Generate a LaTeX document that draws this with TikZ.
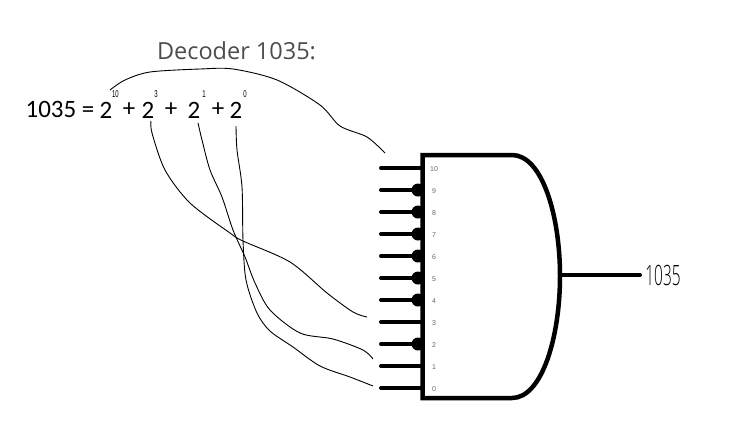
\documentclass[tikz,border=0pt]{standalone}
\usepackage{fontspec}
\setmainfont{Open Sans}
\newfontfamily\carl{Carlito}
\newfontfamily\lib{Liberation Sans}
\newfontfamily\thinf{Open Sans Light}
\tikzset{
  wirestub/.style={line width=4pt,line cap=round},
  gateline/.style={line width=4.5pt,line join=miter},
  sketch/.style={line width=0.9pt,black},
  pinlabel/.style={font=\lib\fontsize{7}{7}\selectfont,text=black!60,inner sep=0pt},
  eqn/.style={font=\carl\fontsize{25}{25}\selectfont,inner sep=0pt,anchor=center},
  sup/.style={font=\lib\fontsize{10}{10}\selectfont,inner sep=0pt,xscale=0.6},
}
\begin{document}
\begin{tikzpicture}[x=1pt,y=-1pt]
\useasboundingbox (0,0) rectangle (750,440);
\node[inner sep=0pt,text=black!70,font=\fontsize{23.5}{23.5}\selectfont] (title) at (236.5,51) {Decoder 1035:};
\node[eqn] (val) at (60,109) {1035 =};
\node[eqn] (p10) at (106,110) {2};
\node[eqn] (pa) at (129,110) {+};
\node[eqn] (p3) at (148,110) {2};
\node[eqn] (pb) at (171,110) {+};
\node[eqn] (p1) at (194,110) {2};
\node[eqn] (pc) at (218,110) {+};
\node[eqn] (p0) at (236,110) {2};
\node[sup] (s10) at (115.5,94) {10};
\node[sup] (s3) at (156,94) {3};
\node[sup] (s1) at (204,94) {1};
\node[sup] (s0) at (245,94) {0};
% gate
\draw[gateline] (422.5,155) -- (512,155) .. controls (542,155) and (560,215) .. (560,276) .. controls (560,337) and (542,398) .. (512,398) -- (422.5,398) -- cycle;
\coordinate (gout) at (560,275);
\coordinate (oend) at (640,275);
\draw[line width=4pt,line cap=round] (gout) -- (oend);
\node[inner sep=0pt,font=\thinf\fontsize{28}{28}\selectfont,xscale=0.55] (out) at (663,275) {1035};
% pins
\foreach \n/\y/\lab/\bub in {a/168/10/0,b/190/9/1,c/212/8/1,d/234/7/1,e/256/6/1,f/278/5/1,g/300/4/1,h/322/3/0,i/344/2/1,j/366/1/0,k/388/0/0}{
  \coordinate (s\n) at (381,\y);
  \coordinate (t\n) at (422,\y);
  \draw[wirestub] (s\n) -- (t\n);
  \ifnum\bub=1 \fill (418,\y) circle (6.5pt); \fi
  \node[pinlabel] (l\n) at (434,\y+1) {\lab};
}
% sketched wires
\coordinate (w10a) at (110,90);
\coordinate (w10b) at (385,153);
\coordinate (w3a) at (151,121);
\coordinate (w3b) at (367,317);
\coordinate (w1a) at (198,123);
\coordinate (w1b) at (373,359);
\coordinate (w0a) at (236,126);
\coordinate (w0b) at (373,386);
\draw[sketch] plot[smooth,tension=0.5] coordinates {(w10a) (125,80) (150,72) (200,69) (233,69) (277,80) (320,105) (340,126) (367,137) (w10b)};
\draw[sketch] plot[smooth,tension=0.5] coordinates {(w3a) (152,133) (165,170) (190,203) (230,233) (243,241) (290,262) (327,293) (353,312) (w3b)};
\draw[sketch] plot[smooth,tension=0.5] coordinates {(w1a) (202,140) (210,170) (222,197) (233,230) (245,257) (255,283) (270,310) (300,333) (333,339) (363,350) (w1b)};
\draw[sketch] plot[smooth,tension=0.5] coordinates {(w0a) (237,150) (242,187) (243,240) (246,280) (257,313) (270,331) (293,347) (320,366) (350,377) (w0b)};
\end{tikzpicture}
\end{document}
